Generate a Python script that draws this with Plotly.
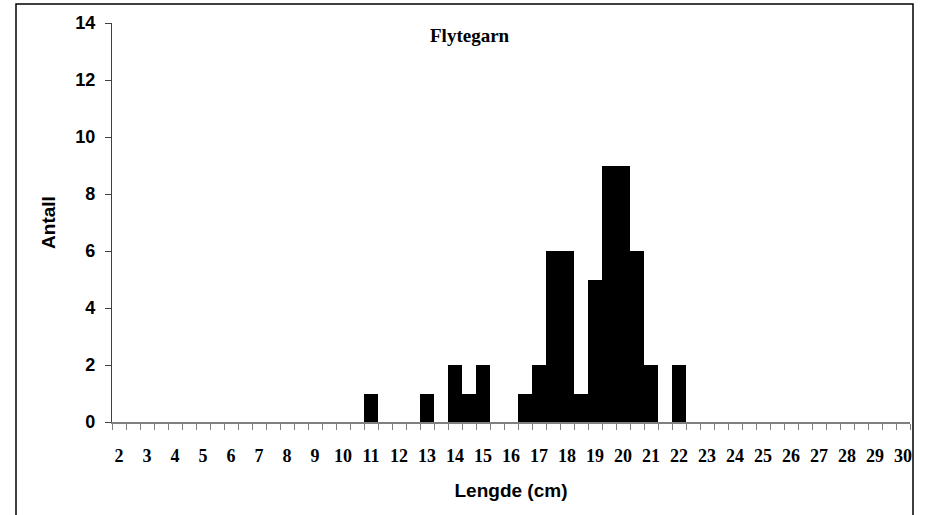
import plotly.graph_objects as go

# Length classes (cm), half-cm bins
lengths = [2.0, 2.5, 3.0, 3.5, 4.0, 4.5, 5.0, 5.5, 6.0, 6.5, 7.0, 7.5, 8.0, 8.5,
           9.0, 9.5, 10.0, 10.5, 11.0, 11.5, 12.0, 12.5, 13.0, 13.5, 14.0, 14.5,
           15.0, 15.5, 16.0, 16.5, 17.0, 17.5, 18.0, 18.5, 19.0, 19.5, 20.0, 20.5,
           21.0, 21.5, 22.0, 22.5, 23.0, 23.5, 24.0, 24.5, 25.0, 25.5, 26.0, 26.5,
           27.0, 27.5, 28.0, 28.5, 29.0, 29.5, 30.0]
counts = [0, 0, 0, 0, 0, 0, 0, 0, 0, 0, 0, 0, 0, 0,
          0, 0, 0, 0, 1, 0, 0, 0, 1, 0, 2, 1,
          2, 0, 0, 1, 2, 6, 6, 1, 5, 9, 9, 6,
          2, 0, 2, 0, 0, 0, 0, 0, 0, 0, 0, 0,
          0, 0, 0, 0, 0, 0, 0]
x_tick_vals = [2, 3, 4, 5, 6, 7, 8, 9, 10, 11, 12, 13, 14, 15, 16, 17, 18, 19, 20,
               21, 22, 23, 24, 25, 26, 27, 28, 29, 30]
x_tick_text = [str(v) for v in x_tick_vals]
y_tick_vals = [0, 2, 4, 6, 8, 10, 12, 14]

W, H = 926, 515
L, R, T, B = 112, 16, 23, 93
pw, ph = W - L - R, H - T - B


def px2paper(px, py):
    return (px - L) / pw, (H - B - py) / ph


fig = go.Figure()
fig.add_trace(go.Bar(x=lengths, y=counts, width=0.5,
                     marker=dict(color="black", line=dict(width=0))))

bx0, by0 = px2paper(16, 4)
bx1, by1 = px2paper(913, 530)
fig.add_shape(type="rect", xref="paper", yref="paper", x0=bx0, y0=by1, x1=bx1, y1=by0,
              line=dict(color="black", width=1.5), layer="above")

tx, ty = px2paper(470, 35)
fig.add_annotation(text="<b>Flytegarn</b>", xref="paper", yref="paper", x=tx, y=ty,
                   showarrow=False, xanchor="center", yanchor="middle",
                   font=dict(family="Liberation Serif", size=19, color="black"))

fig.update_layout(
    width=W, height=H,
    margin=dict(l=L, r=R, t=T, b=B),
    paper_bgcolor="white", plot_bgcolor="white",
    showlegend=False, bargap=0,
    xaxis=dict(
        range=[1.75, 30.25],
        tickmode="array", tickvals=x_tick_vals, ticktext=x_tick_text,
        ticks="", ticklabelstandoff=17,
        tickfont=dict(family="Liberation Serif", size=18, color="black", weight="bold"),
        showline=True, linecolor="#808080", linewidth=1.5,
        showgrid=False, zeroline=False,
        minor=dict(tickmode="linear", tick0=1.75, dtick=0.5, ticks="outside",
                   ticklen=6, tickcolor="#808080", tickwidth=1, showgrid=False),
        title=dict(text="<b>Lengde (cm)</b>", standoff=18,
                   font=dict(family="Liberation Sans", size=19, color="black")),
    ),
    yaxis=dict(
        range=[0, 14],
        tickmode="array", tickvals=y_tick_vals,
        ticks="outside", ticklen=6, tickcolor="#404040",
        ticklabelstandoff=6,
        tickfont=dict(family="Liberation Sans", size=18, color="black", weight="bold"),
        showline=True, linecolor="#404040", linewidth=1.2,
        showgrid=False, zeroline=False,
        title=dict(text="<b>Antall</b>", standoff=14,
                   font=dict(family="Liberation Sans", size=19, color="black")),
    ),
)

fig.write_html("out.html", config={"displayModeBar": False},
               post_script="document.body.style.margin='0';")
